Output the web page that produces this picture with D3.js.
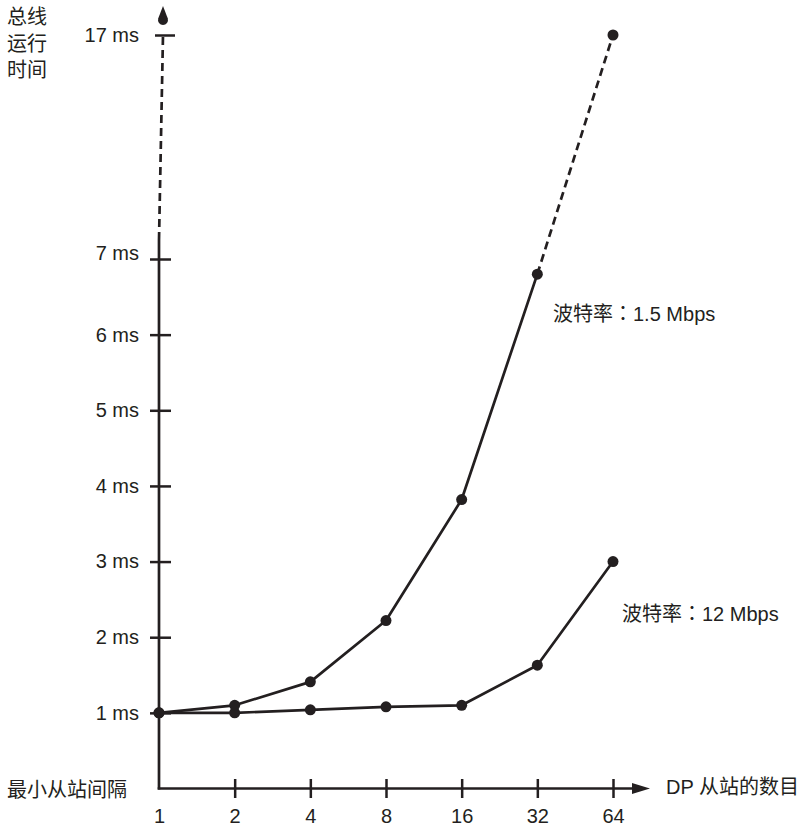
<!DOCTYPE html>
<html><head><meta charset="utf-8">
<script src="https://cdn.jsdelivr.net/npm/d3@7"></script>
<style>
body{margin:0;background:#fff;}
text{font-family:"Liberation Sans","Noto Sans CJK SC",sans-serif;fill:#231f20;}
</style></head>
<body><svg id="c" width="807" height="829"></svg>
<script>
const categories = ["1","2","4","8","16","32","64"];
const series15 = [1.0, 1.1, 1.41, 2.22, 3.82, 6.8, 17];
const series12 = [1.0, 1.0, 1.04, 1.08, 1.1, 1.63, 3.0];
const yTicks = [1,2,3,4,5,6,7,17];
const yTickLabels = ["1 ms","2 ms","3 ms","4 ms","5 ms","6 ms","7 ms","17 ms"];
const seriesLabelHead = "波特率";
const seriesLabelTails = ["1.5 Mbps","12 Mbps"];
const yTitle = ["总线","运行","时间"];
const xTitle = "DP 从站的数目";
const originLabel = "最小从站间隔";

const col = "#231f20";
const FS = 20;
const FF = '"Liberation Sans","Noto Sans CJK SC",sans-serif';
const svg = d3.select("#c");
const x = d3.scalePoint().domain(categories).range([159, 613]);
const y = d3.scaleLinear().domain([0, 7, 17]).range([788.5, 259, 35]);
const x0 = 159, yAxisY = 788.5, xTop = 163;

// y axis: solid part and dashed part
svg.append("line").attr("x1",x0).attr("x2",x0).attr("y1",yAxisY+1).attr("y2",240)
  .attr("stroke",col).attr("stroke-width",2.7);
svg.append("line").attr("x1",x0).attr("x2",xTop).attr("y1",240).attr("y2",y(17))
  .attr("stroke",col).attr("stroke-width",2.7).attr("stroke-dasharray","8,5");
// top arrowhead (teardrop), detached above the 17 ms tick
svg.append("path").attr("d",`M${xTop},6 L${xTop+4.8},18.5 A5,5 0 1 1 ${xTop-4.8},18.5 Z`).attr("fill",col);

// x axis
svg.append("line").attr("x1",x0-1.3).attr("x2",634).attr("y1",yAxisY).attr("y2",yAxisY)
  .attr("stroke",col).attr("stroke-width",2.7);
svg.append("path").attr("d",`M650,${yAxisY} L632,${yAxisY-5.5} L632,${yAxisY+5.5} Z`).attr("fill",col);

// y ticks via axis
const yAx = svg.append("g").attr("transform",`translate(${x0},0)`)
  .call(d3.axisLeft(y).tickValues(yTicks).tickSize(9).tickPadding(11)
    .tickFormat((d,i)=>yTickLabels[i]));
yAx.select(".domain").remove();
yAx.selectAll(".tick line").attr("x1",12).attr("x2",-9).attr("stroke",col).attr("stroke-width",2.5);
yAx.selectAll(".tick text").attr("font-size",FS).attr("fill",col).style("font-family",FF);
// top (broken-axis) tick sits on the slanted dashed part
yAx.selectAll(".tick").filter(d=>d===17).select("line").attr("x1",xTop-x0+12).attr("x2",xTop-x0-8);
yAx.selectAll(".tick").filter(d=>d===7).select("text").attr("y",-6);

// x ticks via axis
const xAx = svg.append("g").attr("transform",`translate(0,${yAxisY})`)
  .call(d3.axisBottom(x).tickSize(9).tickPadding(11));
xAx.select(".domain").remove();
xAx.selectAll(".tick line").attr("y1",-9.5).attr("y2",9.5).attr("stroke",col).attr("stroke-width",2.5);
xAx.selectAll(".tick").filter(d=>d==="1").select("line").remove();
xAx.selectAll(".tick text").attr("font-size",FS).attr("fill",col).style("font-family",FF);

// series lines
function drawSeries(vals, dashedLast){
  const pts = categories.map((c,i)=>[x(c), y(vals[i])]);
  const n = pts.length;
  const solid = dashedLast ? pts.slice(0,n-1) : pts;
  svg.append("path").attr("d",d3.line()(solid)).attr("fill","none")
    .attr("stroke",col).attr("stroke-width",2.7).attr("stroke-linejoin","round");
  if(dashedLast){
    svg.append("path").attr("d",d3.line()(pts.slice(n-2))).attr("fill","none")
      .attr("stroke",col).attr("stroke-width",2.7).attr("stroke-dasharray","8,5");
  }
  svg.selectAll(null).data(pts).enter().append("circle")
    .attr("cx",d=>d[0]).attr("cy",d=>d[1]).attr("r",5.5).attr("fill",col);
}
drawSeries(series12, false);
drawSeries(series15, true);

// series labels (full-width colon centred as in the source)
function seriesLabel(px, py, tail){
  const t = svg.append("text").attr("x",px).attr("y",py).attr("font-size",FS);
  t.append("tspan").text(seriesLabelHead);
  t.append("tspan").style("font-family",'"Noto Sans CJK JP",sans-serif').text("：");
  t.append("tspan").text(tail);
}
seriesLabel(553, 321, seriesLabelTails[0]);
seriesLabel(622, 621, seriesLabelTails[1]);

// titles
yTitle.forEach((t,i)=>{
  svg.append("text").attr("x",7).attr("y",24+i*26.5).attr("font-size",FS).text(t);
});
svg.append("text").attr("x",7).attr("y",797).attr("font-size",FS).text(originLabel);
svg.append("text").attr("x",666).attr("y",794).attr("font-size",FS).text(xTitle);
</script></body></html>
